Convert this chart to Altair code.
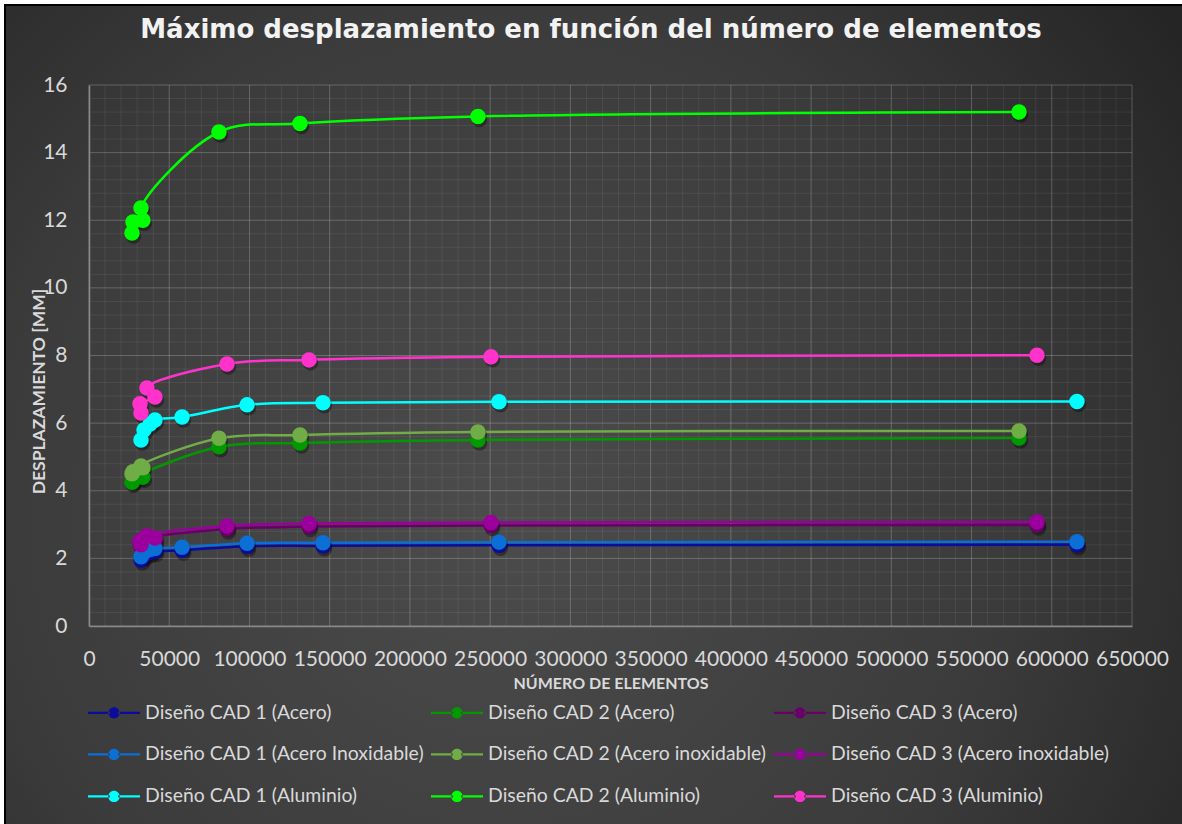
import altair as alt
import pandas as pd

# ---------------- data ----------------
chart_title = "Máximo desplazamiento en función del número de elementos"
series_names = [
    "Diseño CAD 1 (Acero)", "Diseño CAD 2 (Acero)", "Diseño CAD 3 (Acero)",
    "Diseño CAD 1 (Acero Inoxidable)", "Diseño CAD 2 (Acero inoxidable)", "Diseño CAD 3 (Acero inoxidable)",
    "Diseño CAD 1 (Aluminio)", "Diseño CAD 2 (Aluminio)", "Diseño CAD 3 (Aluminio)",
]
series_colors = ["#0c0c9c", "#009a00", "#680068", "#0b6fd6", "#70ad47", "#9c009c",
                 "#00ffff", "#00ff00", "#ff33cc"]

cad1_elementos = [32400, 34300, 38000, 41100, 58000, 98500, 145800, 255500, 615700]
cad1_acero = [1.95, 2.08, 2.17, 2.20, 2.24, 2.36, 2.37, 2.39, 2.40]
cad1_inox = [2.05, 2.17, 2.26, 2.29, 2.33, 2.45, 2.46, 2.48, 2.49]
cad1_aluminio = [5.50, 5.80, 5.97, 6.09, 6.18, 6.54, 6.60, 6.63, 6.64]

cad2_elementos = [26800, 27400, 33600, 32400, 81000, 131500, 242400, 579600]
cad2_acero = [4.25, 4.29, 4.40, 4.44, 5.30, 5.41, 5.50, 5.56]
cad2_inox = [4.50, 4.56, 4.68, 4.73, 5.55, 5.65, 5.74, 5.77]
cad2_aluminio = [11.62, 11.95, 12.00, 12.36, 14.61, 14.86, 15.07, 15.20]

cad3_elementos = [32400, 31800, 41100, 36100, 86000, 137100, 250500, 590800]
cad3_acero = [2.33, 2.44, 2.51, 2.58, 2.87, 2.94, 2.97, 2.99]
cad3_inox = [2.40, 2.52, 2.60, 2.67, 2.96, 3.03, 3.06, 3.08]
cad3_aluminio = [6.30, 6.57, 6.77, 7.04, 7.75, 7.87, 7.96, 8.01]

x_major_ticks = list(range(0, 650001, 50000))
x_minor_ticks = list(range(0, 650001, 10000))
y_major_ticks = list(range(0, 17, 2))
y_minor_ticks = [round(0.4 * i, 1) for i in range(41)]

series_data = [
    (series_names[0], cad1_elementos, cad1_acero),
    (series_names[1], cad2_elementos, cad2_acero),
    (series_names[2], cad3_elementos, cad3_acero),
    (series_names[3], cad1_elementos, cad1_inox),
    (series_names[4], cad2_elementos, cad2_inox),
    (series_names[5], cad3_elementos, cad3_inox),
    (series_names[6], cad1_elementos, cad1_aluminio),
    (series_names[7], cad2_elementos, cad2_aluminio),
    (series_names[8], cad3_elementos, cad3_aluminio),
]
rows = []
for rank, (nombre, elems, vals) in enumerate(series_data):
    for i, (e, v) in enumerate(zip(elems, vals)):
        rows.append({"serie": nombre, "elementos": e, "desplazamiento": v,
                     "orden": i, "rank": rank})
df = pd.DataFrame(rows).sort_values(["rank", "orden"]).reset_index(drop=True)

# legend fills column by column: list the entries so the rows read as in the original
legend_order = [series_names[i] for i in (0, 3, 6, 1, 4, 7, 2, 5, 8)]
legend_colors = [series_colors[i] for i in (0, 3, 6, 1, 4, 7, 2, 5, 8)]

# ---------------- styling ----------------
LABEL_FONT = "Lato"
TXT = "#d9d9d9"
xscale = alt.Scale(domain=[0, 650000], nice=False, zero=True)
yscale = alt.Scale(domain=[0, 16], nice=False, zero=True)
fill_scale = alt.Scale(domain=legend_order, range=legend_colors)
stroke_scale = alt.Scale(domain=series_names[::-1], range=series_colors[::-1])

x_axis = alt.Axis(values=x_major_ticks, format="d", title="NÚMERO DE ELEMENTOS",
                  grid=False, ticks=False, tickSize=0, domain=True,
                  domainColor="#8a8a8a", domainWidth=1.5, zindex=1,
                  labelFont=LABEL_FONT, labelFontSize=21, labelColor=TXT,
                  labelPadding=22, labelFlush=False, labelOverlap=False,
                  titleFont=LABEL_FONT, titleFontSize=16, titleFontWeight="bold",
                  titleColor=TXT, titleBaseline="alphabetic", titleY=62)
y_axis = alt.Axis(values=y_major_ticks, format="d", title="DESPLAZAMIENTO [MM]",
                  grid=False, ticks=False, tickSize=0, domain=True,
                  domainColor="#8a8a8a", domainWidth=1.5, zindex=1,
                  labelFont=LABEL_FONT, labelFontSize=21, labelColor=TXT,
                  labelPadding=22,
                  titleFont=LABEL_FONT, titleFontSize=17.5, titleFontWeight="bold",
                  titleColor=TXT, titleAngle=270, titleBaseline="alphabetic",
                  titleX=-45, titleY=306)

legend_symbol = ("M-4.333,-0.2H-0.7V0.2H-4.333Z"
                 "M0.7,-0.2H4.333V0.2H0.7Z"
                 "M-0.95,0A0.95,0.95,0,1,0,0.95,0A0.95,0.95,0,1,0,-0.95,0Z")

legend = alt.Legend(orient="none", legendX=15.3, legendY=617.7, columns=3,
                    gridAlign="all", symbolType=legend_symbol, symbolSize=144,
                    symbolStrokeWidth=0, symbolOpacity=1, zindex=1,
                    labelFont=LABEL_FONT, labelFontSize=19.4, labelColor=TXT,
                    labelLimit=400, labelOffset=21.4, columnPadding=6,
                    rowPadding=21, padding=0, title=None)

gradient = {
    "gradient": "radial",
    "x1": 0.42, "y1": 0.58, "r1": 0,
    "x2": 0.42, "y2": 0.58, "r2": 0.78,
    "stops": [
        {"offset": 0, "color": "#4c4c4c"},
        {"offset": 0.55, "color": "#3b3b3b"},
        {"offset": 1, "color": "#1f1f1f"},
    ],
}

bg = alt.Chart(alt.Data(values=[{"a": 1}])).mark_rect(
    fill=gradient, stroke="black", strokeWidth=2
).encode(x=alt.value(-84), x2=alt.value(1095), y=alt.value(-80), y2=alt.value(741))

title_mark = alt.Chart(alt.Data(values=[{"t": chart_title}])).mark_text(
    font="DejaVu Sans", fontSize=26, fontWeight="bold", color="#f2f2f2",
    align="center", baseline="alphabetic"
).encode(x=alt.value(502), y=alt.value(-47), text="t:N")

X = lambda f: alt.X(f, scale=xscale, axis=x_axis)
Y = lambda f: alt.Y(f, scale=yscale, axis=y_axis)

grid_x_minor = alt.Chart(pd.DataFrame({"gx": x_minor_ticks})).mark_rule(
    color="white", opacity=0.07, strokeWidth=1
).encode(x=X("gx:Q"))
grid_y_minor = alt.Chart(pd.DataFrame({"gy": y_minor_ticks})).mark_rule(
    color="white", opacity=0.07, strokeWidth=1
).encode(y=Y("gy:Q"))
grid_x_major = alt.Chart(pd.DataFrame({"gx": x_major_ticks})).mark_rule(
    color="white", opacity=0.16, strokeWidth=1
).encode(x=X("gx:Q"))
grid_y_major = alt.Chart(pd.DataFrame({"gy": y_major_ticks})).mark_rule(
    color="white", opacity=0.16, strokeWidth=1
).encode(y=Y("gy:Q"))

lines = alt.Chart(df).mark_line(strokeWidth=2.5, interpolate="catmull-rom").encode(
    x=X("elementos:Q"),
    y=Y("desplazamiento:Q"),
    stroke=alt.Stroke("serie:N", scale=stroke_scale, legend=None),
    order=alt.Order("orden:Q"),
)

shadows = alt.Chart(df).mark_circle(color="black", opacity=0.35, size=240,
                                     xOffset=1.5, yOffset=3).encode(
    x=X("elementos:Q"),
    y=Y("desplazamiento:Q"),
)

points = alt.Chart(df).mark_circle(size=240, opacity=1).encode(
    x=X("elementos:Q"),
    y=Y("desplazamiento:Q"),
    fill=alt.Fill("serie:N", scale=fill_scale, legend=legend),
)

chart = alt.layer(
    bg, title_mark, grid_x_minor, grid_y_minor, grid_x_major, grid_y_major,
    lines, shadows, points
).properties(
    width=1043, height=541,
    padding={"left": 89, "top": 85, "right": 50, "bottom": 198},
    autosize=alt.AutoSizeParams(type="none"),
    background="white",
).configure_view(strokeOpacity=0)

chart.save("out.html", embed_options={"renderer": "svg", "actions": False})
